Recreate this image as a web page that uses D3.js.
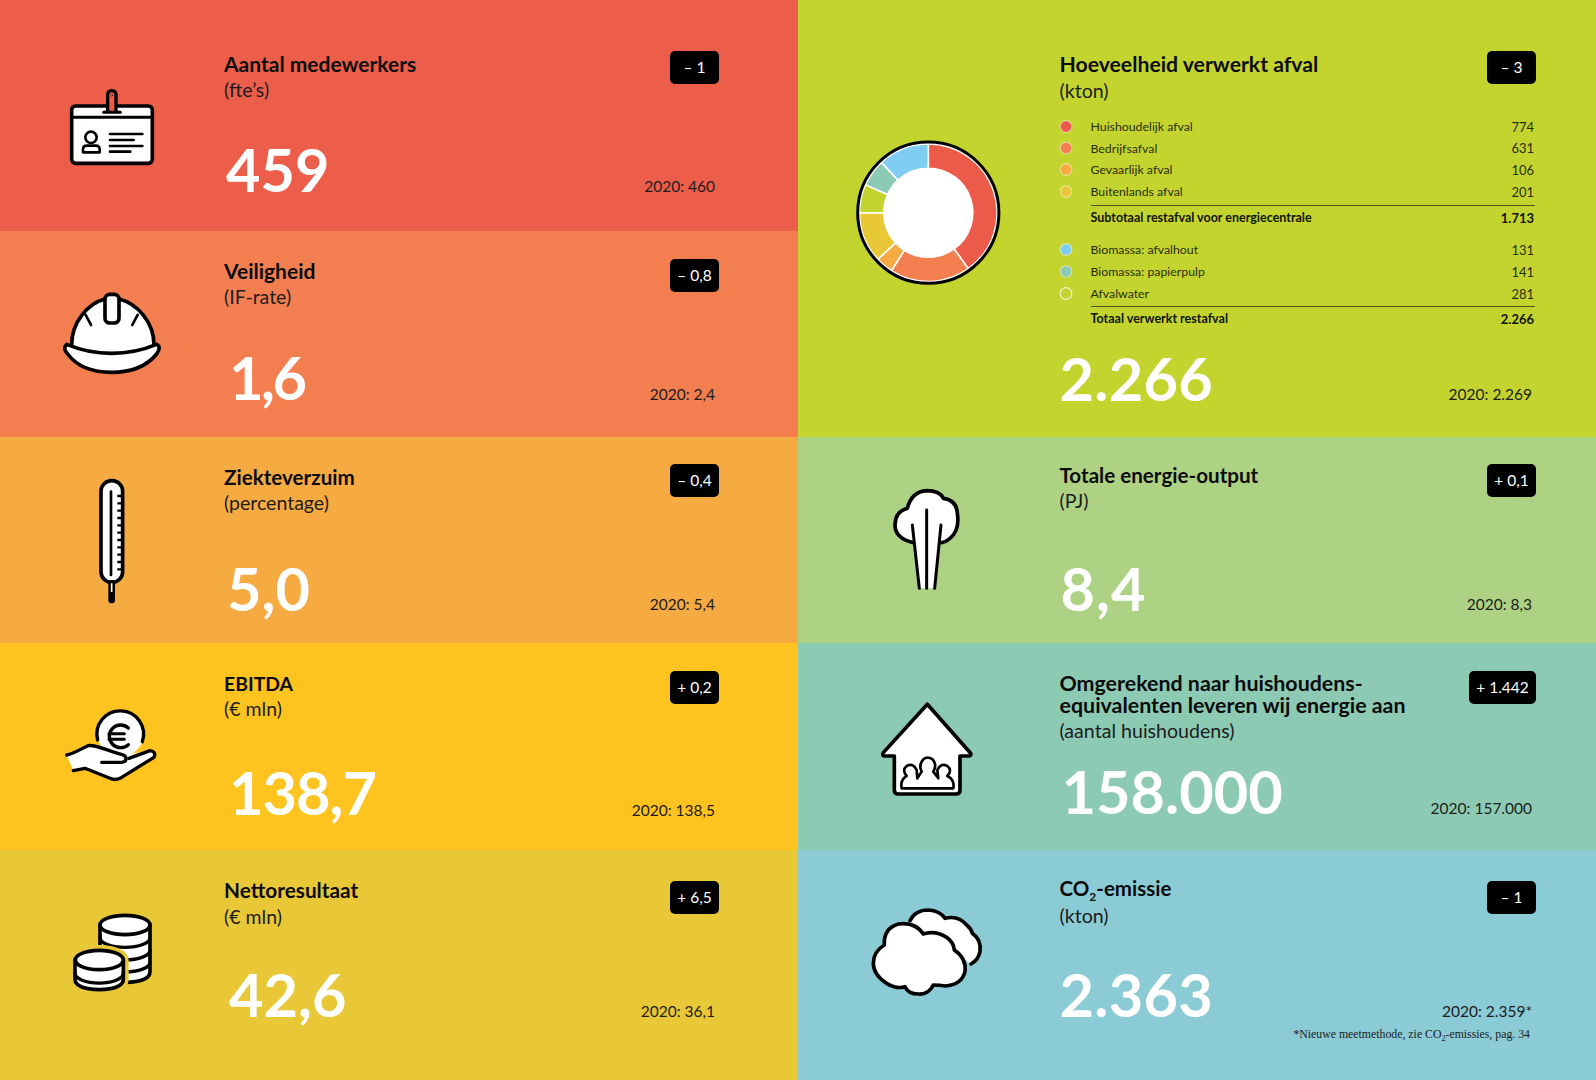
<!DOCTYPE html>
<html>
<head>
<meta charset="utf-8">
<style>
html, body { margin: 0; padding: 0; background: #fff; overflow: hidden; }
text { font-family: Lato, "Open Sans", sans-serif; }
</style>
<script src="https://cdnjs.cloudflare.com/ajax/libs/d3/7.8.5/d3.min.js"></script>
</head>
<body>
<script>
// panels, left column first
const titles = [
  ['Aantal medewerkers'], ['Veiligheid'], ['Ziekteverzuim'], ['EBITDA'], ['Nettoresultaat'],
  ['Hoeveelheid verwerkt afval'], ['Totale energie-output'],
  ['Omgerekend naar huishoudens-', 'equivalenten leveren wij energie aan'], ['CO2-emissie']
];
const units = ['(fte\u2019s)', '(IF-rate)', '(percentage)', '(\u20AC mln)', '(\u20AC mln)', '(kton)', '(PJ)', '(aantal huishoudens)', '(kton)'];
const values = ['459', '1,6', '5,0', '138,7', '42,6', '2.266', '8,4', '158.000', '2.363'];
const previous = ['2020: 460', '2020: 2,4', '2020: 5,4', '2020: 138,5', '2020: 36,1', '2020: 2.269', '2020: 8,3', '2020: 157.000', '2020: 2.359*'];
const deltas = ['\u2013 1', '\u2013 0,8', '\u2013 0,4', '+ 0,2', '+ 6,5', '\u2013 3', '+ 0,1', '+ 1.442', '\u2013 1'];
const panelColors = ['#ec5d4a', '#f37f51', '#f6aa42', '#fec31f', '#e9c838', '#c3d42f', '#aed284', '#8ccab4', '#8acbd6'];

// waste table and ring
const wasteLabels = ['Huishoudelijk afval', 'Bedrijfsafval', 'Gevaarlijk afval', 'Buitenlands afval', 'Biomassa: afvalhout', 'Biomassa: papierpulp', 'Afvalwater'];
const wasteValues = ['774', '631', '106', '201', '131', '141', '281'];
const wasteColors = ['#ec5a4a', '#f37f51', '#f6aa42', '#e9c838', '#7fcdf0', '#8dcab5', '#c3d42f'];
const ringLabels = ['Huishoudelijk afval', 'Bedrijfsafval', 'Gevaarlijk afval', 'Buitenlands afval', 'Afvalwater', 'Biomassa: papierpulp', 'Biomassa: afvalhout'];
// ring shares as drawn in the picture (degrees), they do not follow the table
const ringShares = [144.5, 68, 14.8, 42.7, 24, 23, 43];
const sumLabels = ['Subtotaal restafval voor energiecentrale', 'Totaal verwerkt restafval'];
const sumValues = ['1.713', '2.266'];

const width = 1596, height = 1080;
const colX = [0, 798];
const textX = [224, 1059.5];
const rowEdges = [0, 231, 437, 643, 850, 1080];
const rightEdges = [0, 437, 643, 850, 1080];

const titleY = [72, 279, 485, 691, 898, 72, 483, 691, 896];
const titleSize = [21, 21, 20.6, 19.4, 20.8, 21.2, 20.6, 21.4, 20.5];
const unitY = [97, 304, 510, 716, 924, 98, 508, 738, 923];
const valueY = [192, 400, 611, 815, 1017, 401, 611, 814, 1017];
const valueDx = [2, 5, 3, 5, 5, 0, 1, 2, 0];
const valueSpacing = [0, -2.5, 0, -1, 0, 0.3, 1, 0, 0.3];
const prevY = [192, 400, 610, 816, 1017, 400, 610, 814, 1017];
const badgeY = [51, 259, 464, 671, 881, 51, 464, 671, 881];

const svg = d3.select('body').append('svg')
  .attr('width', width)
  .attr('height', height)
  .style('display', 'block');

let panels = d3.range(9).map(i => {
  let left = i < 5;
  let edges = left ? rowEdges : rightEdges;
  let r = left ? i : i - 5;
  return {
    i: i, left: left,
    x0: left ? colX[0] : colX[1],
    y0: edges[r], y1: edges[r + 1],
    tx: left ? textX[0] : textX[1],
    badgeR: left ? 719 : 1536,
    prevR: left ? 715 : 1532,
    badgeW: deltas[i] === '+ 1.442' ? 67 : 49
  };
});

svg.selectAll('.panel').data(panels).enter().append('rect')
  .attr('class', 'panel')
  .attr('x', d => d.x0)
  .attr('y', d => d.y0)
  .attr('width', 798)
  .attr('height', d => d.y1 - d.y0)
  .style('shape-rendering', 'crispEdges')
  .style('fill', d => panelColors[d.i]);

// titles, two line ones share one text element
panels.forEach(d => {
  let t = svg.append('text')
    .attr('x', d.tx)
    .attr('y', titleY[d.i])
    .style('font-size', titleSize[d.i] + 'px')
    .style('font-weight', 700)
    .style('fill', '#0c0c0c');
  titles[d.i].forEach((line, k) => {
    if (line.indexOf('CO2') === 0) {
      t.append('tspan').text('CO');
      t.append('tspan').attr('dy', 5).style('font-size', '12px').text('2');
      t.append('tspan').attr('dy', -5).text(line.slice(3));
    } else {
      t.append('tspan').attr('x', d.tx).attr('dy', k ? 21.5 : 0).text(line);
    }
  });
});

svg.selectAll('.unit').data(panels).enter().append('text')
  .attr('class', 'unit')
  .attr('x', d => d.tx)
  .attr('y', d => unitY[d.i])
  .style('font-size', d => d.left ? '19.5px' : '19.6px')
  .style('fill', '#1c1c1c')
  .text(d => units[d.i]);

svg.selectAll('.value').data(panels).enter().append('text')
  .attr('class', 'value')
  .attr('x', d => d.tx + valueDx[d.i])
  .attr('y', d => valueY[d.i])
  .style('font-size', '59.5px')
  .style('font-weight', 700)
  .style('letter-spacing', d => valueSpacing[d.i] + 'px')
  .style('fill', '#fff')
  .text(d => values[d.i]);

svg.selectAll('.prev').data(panels).enter().append('text')
  .attr('class', 'prev')
  .attr('x', d => d.prevR)
  .attr('y', d => prevY[d.i])
  .attr('text-anchor', 'end')
  .style('font-size', '15.5px')
  .style('fill', '#1c1c1c')
  .text(d => previous[d.i]);

svg.selectAll('.badge').data(panels).enter().append('rect')
  .attr('class', 'badge')
  .attr('x', d => d.badgeR - d.badgeW)
  .attr('y', d => badgeY[d.i])
  .attr('width', d => d.badgeW)
  .attr('height', 33)
  .attr('rx', 5)
  .style('fill', '#000');

svg.selectAll('.delta').data(panels).enter().append('text')
  .attr('class', 'delta')
  .attr('x', d => d.badgeR - d.badgeW / 2)
  .attr('y', d => badgeY[d.i] + 22)
  .attr('text-anchor', 'middle')
  .style('font-size', '15.5px')
  .style('fill', '#fff')
  .text(d => deltas[d.i]);

// footnote under the CO2 panel
let note = svg.append('text')
  .attr('x', 1530)
  .attr('y', 1038)
  .attr('text-anchor', 'end')
  .style('font-family', '"Liberation Serif", serif')
  .style('font-size', '11.8px')
  .style('fill', '#1c1c1c');
note.append('tspan').text('*Nieuwe meetmethode, zie CO');
note.append('tspan').attr('dy', 3).style('font-size', '8px').text('2');
note.append('tspan').attr('dy', -3).text('-emissies, pag. 34');

// ring
const cx = 928.3, cy = 212.7;
let pie = d3.pie().sort(null).value(d => d)(ringShares);
let arc = d3.arc().innerRadius(44.5).outerRadius(68.8);
let ring = svg.append('g').attr('transform', 'translate(' + cx + ',' + cy + ')');
ring.append('circle').attr('r', 70).style('fill', '#fff');
ring.selectAll('.slice').data(pie).enter().append('path')
  .attr('class', 'slice')
  .attr('d', arc)
  .style('fill', (d, i) => wasteColors[wasteLabels.indexOf(ringLabels[i])])
  .style('stroke', '#fff')
  .style('stroke-width', 1.6);
ring.append('circle').attr('r', 70.6)
  .style('fill', 'none')
  .style('stroke', '#000')
  .style('stroke-width', 3);

// waste table
const rowY = [131, 152.5, 174, 196, 254, 276, 298];
svg.selectAll('.dot').data(wasteLabels).enter().append('circle')
  .attr('class', 'dot')
  .attr('cx', 1066)
  .attr('cy', (d, i) => rowY[i] - 4.5)
  .attr('r', 5.8)
  .style('fill', (d, i) => wasteColors[i])
  .style('stroke', (d, i) => i === 6 ? '#f4f4d0' : 'rgba(255,255,255,0.45)')
  .style('stroke-width', 1.2);
svg.selectAll('.wlabel').data(wasteLabels).enter().append('text')
  .attr('class', 'wlabel')
  .attr('x', 1090.5)
  .attr('y', (d, i) => rowY[i])
  .style('font-size', '12.3px')
  .style('fill', '#2a2e10')
  .text(d => d);
svg.selectAll('.wvalue').data(wasteValues).enter().append('text')
  .attr('class', 'wvalue')
  .attr('x', 1534)
  .attr('y', (d, i) => rowY[i] + 0.5)
  .attr('text-anchor', 'end')
  .style('font-size', '13px')
  .style('fill', '#2a2e10')
  .text(d => d);

const sumY = [222, 323];
const ruleY = [205.5, 306.5];
svg.selectAll('.rule').data(ruleY).enter().append('line')
  .attr('class', 'rule')
  .attr('x1', 1091).attr('x2', 1535)
  .attr('y1', d => d).attr('y2', d => d)
  .style('stroke', '#4a5220')
  .style('stroke-width', 1);
svg.selectAll('.slabel').data(sumLabels).enter().append('text')
  .attr('class', 'slabel')
  .attr('x', 1090.5)
  .attr('y', (d, i) => sumY[i])
  .style('font-size', '12.5px')
  .style('font-weight', 700)
  .style('fill', '#10130a')
  .text(d => d);
svg.selectAll('.svalue').data(sumValues).enter().append('text')
  .attr('class', 'svalue')
  .attr('x', 1534)
  .attr('y', (d, i) => sumY[i] + 0.5)
  .attr('text-anchor', 'end')
  .style('font-size', '13px')
  .style('font-weight', 700)
  .style('fill', '#10130a')
  .text(d => d);

// icons: each one is drawn at 3x inside its own group
function icon(x, y) {
  return svg.append('g')
    .attr('transform', 'translate(' + x + ',' + y + ') scale(0.3333)')
    .style('stroke', '#000')
    .style('stroke-width', 11)
    .style('stroke-linecap', 'round')
    .style('stroke-linejoin', 'round')
    .style('fill', '#fff');
}
function addPath(g, d, fill, sw) {
  let p = g.append('path').attr('d', d);
  if (fill) p.style('fill', fill);
  if (sw !== undefined) p.style('stroke-width', sw);
  return p;
}

// id badge
let id = icon(55, 80);
id.append('rect').attr('x', 50).attr('y', 78).attr('width', 242).attr('height', 172).attr('rx', 12);
addPath(id, 'M50 112H292', 'none', 9);
addPath(id, 'M158 95V45Q158 32 170 32Q183 32 183 45V95', '#ec5d4a', 10);
addPath(id, 'M146 97H196', 'none', 9);
id.append('circle').attr('cx', 170).attr('cy', 46).attr('r', 2.5).style('stroke-width', 2);
id.append('circle').attr('cx', 108).attr('cy', 172).attr('r', 17).style('stroke-width', 8);
addPath(id, 'M84 217V208Q84 197 96 197H122Q134 197 134 208V217H84', 'none', 8);
addPath(id, 'M165 162H262M165 180H236M165 198H262M165 215H226', 'none', 8);

// helmet
let helmet = icon(55, 285);
addPath(helmet, 'M50 180C50 110 100 55 150 42H192C245 55 297 110 297 180V212H50Z');
addPath(helmet, 'M92 90L108 120M248 90L232 120', 'none', 8);
helmet.append('rect').attr('x', 150).attr('y', 28).attr('width', 42).attr('height', 86).attr('rx', 14);
addPath(helmet, 'M35 178Q100 205 170 205Q240 205 305 178Q320 185 305 207C270 250 220 262 170 262C120 262 70 250 38 207Q22 190 35 178Z');

// thermometer
let thermo = icon(40, 440);
thermo.append('rect').attr('x', 183).attr('y', 122).attr('width', 65).attr('height', 305).attr('rx', 32);
addPath(thermo, 'M213 155V405', 'none', 8);
addPath(thermo, 'M232 168H248M232 190H248M232 212H248M232 234H248M232 256H248M232 278H248M232 300H248M232 322H248M232 344H248M232 366H248M232 388H248', 'none', 7).style('stroke-linecap', 'butt');
addPath(thermo, 'M215 430V480', 'none', 20);
addPath(thermo, 'M215 430V456', 'none', 5).style('stroke', '#fff').style('stroke-linecap', 'butt');

// hand with coin
let hand = icon(55, 700);
hand.append('circle').attr('cx', 197).attr('cy', 100).attr('r', 70).style('stroke', 'none');
addPath(hand, 'M128 120A70 70 0 1 1 262 125', 'none', 10);
addPath(hand, 'M220 84A34 34 0 1 0 220 134', 'none', 10);
addPath(hand, 'M162 101H208M162 118H208', 'none', 9);
addPath(hand, 'M35 165C60 160 80 145 100 137C120 132 150 150 205 165L285 152Q305 155 297 172L195 235Q180 242 165 235L90 205L55 212Z', '#fff', 0);
addPath(hand, 'M35 165C60 160 80 145 100 137C120 132 150 150 205 165C218 172 215 185 200 187H140', 'none', 10);
addPath(hand, 'M222 175L285 152Q305 155 297 172L195 235Q180 242 165 235L90 205L55 212', 'none', 10);

// coins
let coins = icon(60, 905);
addPath(coins, 'M120 60V200Q120 230 195 232Q270 230 270 200V60Z');
coins.append('ellipse').attr('cx', 195).attr('cy', 60).attr('rx', 75).attr('ry', 29);
addPath(coins, 'M120 98A75 29 0 0 0 270 98M120 136A75 29 0 0 0 270 136M120 172A75 29 0 0 0 270 172', 'none', 10);
addPath(coins, 'M45 165V222Q45 252 118 254Q190 252 190 222V165A72 29 0 0 0 45 165Z', '#e9c838', 32).style('stroke', '#e9c838');
addPath(coins, 'M45 165V222Q45 252 118 254Q190 252 190 222V165Z');
coins.append('ellipse').attr('cx', 118).attr('cy', 165).attr('rx', 72).attr('ry', 29);
addPath(coins, 'M45 205A72 29 0 0 0 190 205', 'none', 10);

// steam
let steam = icon(850, 470);
addPath(steam, 'M190 218Q135 205 135 165Q135 125 172 115Q185 65 230 62Q270 62 280 85Q320 90 322 130Q330 180 300 205Q285 218 270 218');
addPath(steam, 'M187 165L208 355H254L273 165Z', '#fff', 0);
addPath(steam, 'M187 165L208 355M230 120V355M273 165L254 355', 'none', 9);

// house with family
let house = icon(850, 470);
addPath(house, 'M232 703L362 850Q365 858 355 858H330V960Q330 972 318 972H145Q133 972 133 960V858H105Q95 858 100 848Z');
addPath(house, 'M155 955Q150 930 170 918Q155 900 170 888Q190 878 200 900L202 925L215 905Q205 885 220 868Q232 858 248 868Q262 885 250 905L265 925L262 900Q272 878 292 888Q308 900 292 918Q315 930 310 955Z', 'none', 8);

// clouds
let cloud = icon(865, 900);
addPath(cloud, 'M135 62Q150 30 190 30Q225 32 240 55Q280 45 305 75Q318 85 322 100Q350 120 345 155Q340 180 318 192');
addPath(cloud, 'M58 135Q55 85 100 72Q150 65 175 102Q210 90 245 112Q265 125 268 150Q305 175 300 215Q290 255 240 258Q225 255 205 255Q190 285 160 282Q130 282 120 260Q95 268 65 250Q25 225 25 190Q25 155 58 135Z');
</script>
</body>
</html>
